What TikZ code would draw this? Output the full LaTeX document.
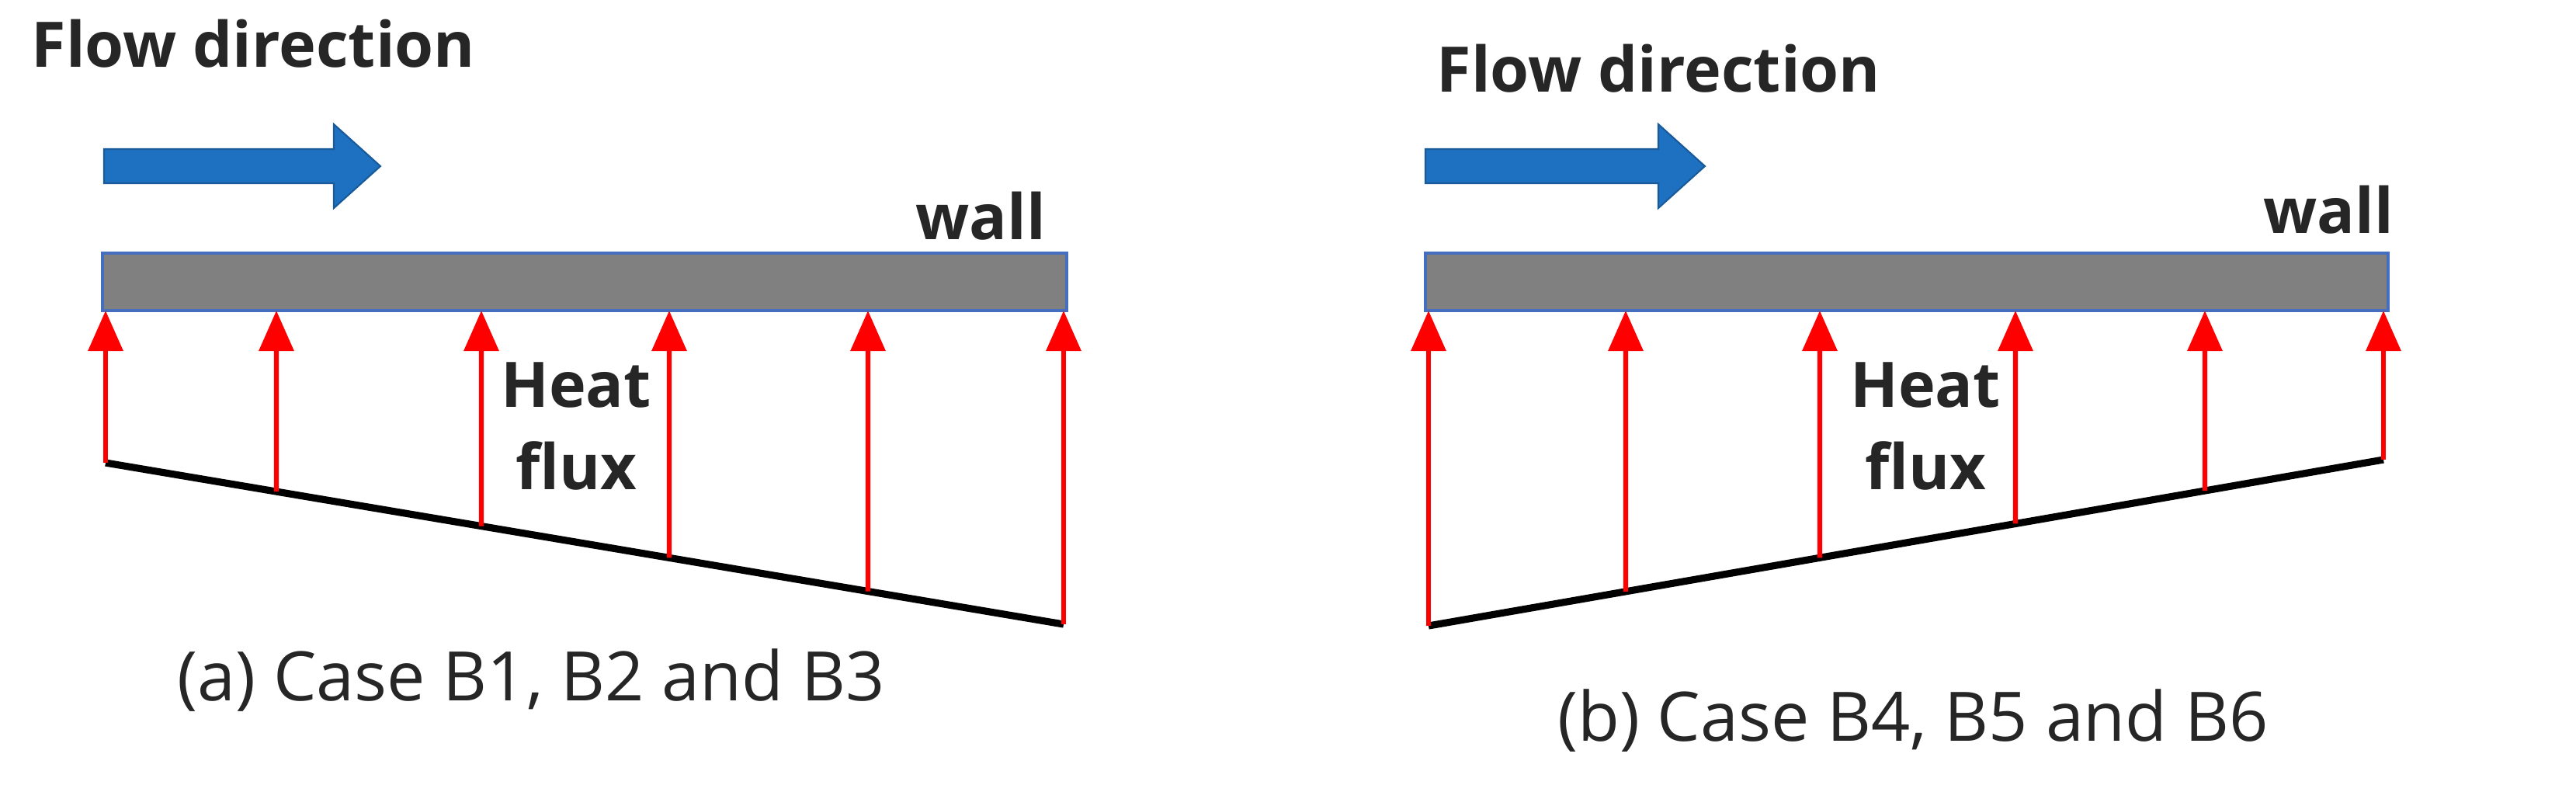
\documentclass[tikz,border=0pt]{standalone}
\usepackage{fontspec}
\setmainfont{Open Sans}
\usetikzlibrary{arrows.meta,calc}
\definecolor{flowblue}{RGB}{30,112,192}
\definecolor{wallgray}{RGB}{128,128,128}
\definecolor{wallline}{RGB}{70,110,190}
\begin{document}
\begin{tikzpicture}[x=0.01cm,y=-0.01cm,
  lbl/.style={font=\fontsize{11.5}{13}\selectfont\bfseries, text=black!85},
  captxt/.style={font=\fontsize{12.5}{14}\selectfont, text=black!85},
  wall/.style={draw=wallline, fill=wallgray, line width=0.6pt},
  flux/.style={draw=red, line width=0.9pt, -{Triangle[width=0.22cm,length=0.26cm]}},
  base/.style={draw=black, line width=1.3pt},
  flow/.style={fill=flowblue, draw=flowblue!80!black, line width=0.3pt}]
\useasboundingbox (0,0) rectangle (1659,505);
% ---- panel a
\node[lbl, anchor=west] (fa) at (8,28) {Flow direction};
\fill[flow] (67,96) -- (215,96) -- (215,80) -- (245,107) -- (215,134) -- (215,118) -- (67,118) -- cycle;
\node[lbl, anchor=east] (wa) at (686,139) {wall};
\draw[wall] (66,163) rectangle (687,200);
\coordinate (la) at (68,298); \coordinate (ra) at (685,402);
\draw[base] (la) -- (ra);
\foreach \x [count=\i] in {68,178,310,431,559,685}{
  \coordinate (ta\i) at (\x,200);
  \coordinate (ba\i) at ($(la)!{(\x-68)/617}!(ra)$);
  \draw[flux] (ba\i) -- (ta\i);
}
\node[lbl] (ha) at (371,248) {Heat};
\node[lbl] (ha2) at (371,300) {flux};
\node[captxt] (ca) at (342,438) {(a) Case B1, B2 and B3};
% ---- panel b
\node[lbl, anchor=west] (fb) at (913,44) {Flow direction};
\fill[flow] (918,96) -- (1068,96) -- (1068,80) -- (1098,107) -- (1068,134) -- (1068,118) -- (918,118) -- cycle;
\node[lbl, anchor=east] (wb) at (1554,135) {wall};
\draw[wall] (918,163) rectangle (1538,200);
\coordinate (lb) at (920,403); \coordinate (rb) at (1535,296);
\draw[base] (lb) -- (rb);
\foreach \x [count=\i] in {920,1047,1172,1298,1420,1535}{
  \coordinate (tb\i) at (\x,200);
  \coordinate (bb\i) at ($(lb)!{(\x-920)/615}!(rb)$);
  \draw[flux] (bb\i) -- (tb\i);
}
\node[lbl] (hb) at (1240,248) {Heat};
\node[lbl] (hb2) at (1240,300) {flux};
\node[captxt] (cb) at (1232,464) {(b) Case B4, B5 and B6};
\end{tikzpicture}
\end{document}
